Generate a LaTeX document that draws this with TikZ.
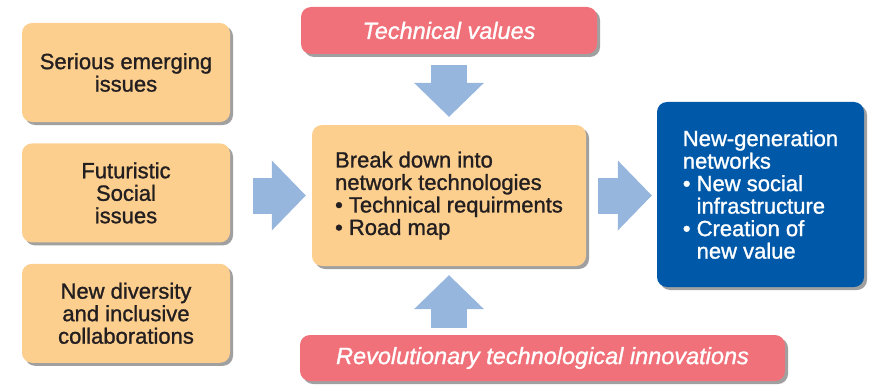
\documentclass[tikz,border=0pt]{standalone}
\usepackage{fontspec}
\setmainfont{Liberation Sans}[FakeBold=1.2]
\usetikzlibrary{arrows.meta,positioning,shadows}

\definecolor{boxorange}{RGB}{253,207,143}
\definecolor{boxred}{RGB}{240,113,121}
\definecolor{netblue}{RGB}{0,89,168}
\definecolor{arrowblue}{RGB}{151,182,222}
\definecolor{shadowgrey}{RGB}{160,160,160}
\definecolor{textdark}{RGB}{35,31,32}

\begin{document}
\begin{tikzpicture}[x=1pt,y=-1pt,node distance=21pt,
                    font=\fontsize{22}{22.5}\selectfont,text=textdark]

  \tikzstyle{box}=[rectangle,rounded corners=10pt,
                   drop shadow={shadow xshift=3pt,shadow yshift=-3pt,fill=shadowgrey,opacity=1}]
  \tikzstyle{issue}=[box,fill=boxorange,align=center,minimum width=208pt,minimum height=99pt]
  \tikzstyle{factor}=[box,fill=boxred,text=white,font=\fontsize{23.5}{24}\selectfont\itshape]
  \tikzstyle{bigarrow}=[color=arrowblue,line width=36pt,
                        -{Triangle[length=34pt,width=70pt,line width=0pt]}]

  \useasboundingbox (0,0) rectangle (869,385);

  \node[issue] (SEI) at (126,72.5) {Serious emerging\\issues};
  \node[issue] (FSI) [below=of SEI] {Futuristic\\Social\\issues};
  \node[issue] (NDC) [below=of FSI] {New diversity\\and inclusive\\collaborations};

  \node[factor,minimum width=296pt,minimum height=47pt] (TV)  at (449,30.5)  {Technical values};
  \node[factor,minimum width=485pt,minimum height=46pt] (RTI) at (542.5,358) {Revolutionary technological innovations};

  \node[box,fill=boxorange,align=left,minimum width=274pt,minimum height=141pt] (BDN) at (449,195.5)
       {Break down into\\network technologies\\\textbullet\ Technical requirments\\\textbullet\ Road map};
  \node[box,fill=netblue,text=white,align=left,minimum width=207pt,minimum height=185pt] (NGN) at (760.5,194.5)
       {New-generation\\networks\\\textbullet\ New social\\\phantom{\textbullet\ }infrastructure\\
        \textbullet\ Creation of\\\phantom{\textbullet\ }new value};

  \path
  (TV.south)          edge [bigarrow,shorten <=11pt,shorten >=8pt] (TV.south |- BDN.north)
  (FSI.east |- BDN.west) edge [bigarrow,shorten <=23pt,shorten >=6pt] (BDN.west)
  (BDN.east)          edge [bigarrow,shorten <=12pt,shorten >=5pt] (BDN.east -| NGN.west)
  (RTI.north -| BDN.south) edge [bigarrow,shorten <=7pt,shorten >=9pt] (BDN.south)
  ;
\end{tikzpicture}
\end{document}
